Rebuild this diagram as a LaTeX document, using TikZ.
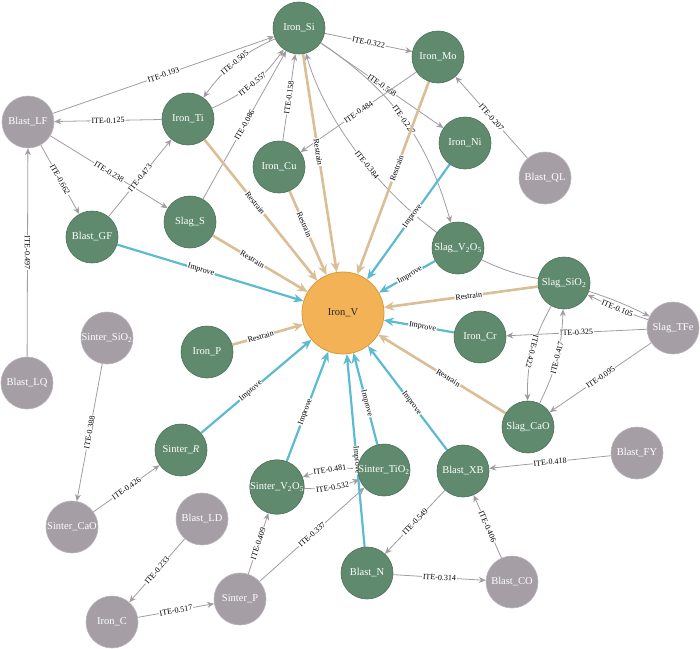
\documentclass[tikz,border=0pt]{standalone}
\usepackage{fontspec}
\setmainfont{Liberation Serif}
\usetikzlibrary{arrows.meta,backgrounds}
\definecolor{gnode}{HTML}{5F8A6E}
\definecolor{gborder}{HTML}{4A7058}
\definecolor{ynode}{HTML}{A59FA5}
\definecolor{yborder}{HTML}{B8B3B8}
\definecolor{onode}{HTML}{F2B255}
\definecolor{oborder}{HTML}{D99A3C}
\definecolor{egray}{HTML}{A19CA1}
\definecolor{etan}{HTML}{DABE96}
\definecolor{ecyan}{HTML}{5CBBD0}
\newcommand\myNodeFont{\fontsize{10.5}{12}\selectfont}
\newcommand\myLabFont{\fontsize{8}{9}\selectfont}
\begin{document}
\begin{tikzpicture}[x=1pt,y=-1pt,
  gn/.style={circle,minimum size=52pt,inner sep=0pt,fill=gnode,draw=gborder,line width=0.6pt,text=white,font=\myNodeFont},
  gy/.style={circle,minimum size=52pt,inner sep=0pt,fill=ynode,draw=yborder,line width=0.6pt,text=white,font=\myNodeFont},
  ov/.style={circle,minimum size=82pt,inner sep=0pt,fill=onode,draw=oborder,line width=0.8pt,text=black!85,font=\myNodeFont},
  lab/.style={font=\myLabFont,fill=white,inner sep=0.8pt,sloped,text=black},
  ite/.style={draw=egray,line width=0.8pt,-{Stealth[length=7pt,width=6pt]}},
  res/.style={draw=etan,line width=2.6pt,-{Stealth[length=10pt,width=9pt]}},
  imp/.style={draw=ecyan,line width=2.2pt,-{Stealth[length=10pt,width=8.5pt]}}]
\useasboundingbox (0,0) rectangle (700,648);
% nodes
\node[gn] (si) at (299,28) {Iron\_Si};
\node[gn] (mo) at (438,57) {Iron\_Mo};
\node[gn] (ni) at (465,143) {Iron\_Ni};
\node[gy] (ql) at (545,178) {Blast\_QL};
\node[gy] (blf) at (28,122) {Blast\_LF};
\node[gn] (ti) at (188,119) {Iron\_Ti};
\node[gn] (cu) at (279,167) {Iron\_Cu};
\node[gn] (slags) at (190,222) {Slag\_S};
\node[gn] (gf) at (92,237) {Blast\_GF};
\node[ov] (v) at (343,313) {Iron\_V};
\node[gn] (ip) at (207,352) {Iron\_P};
\node[gy] (ssio2) at (107,338) {Sinter\_SiO\textsubscript{2}};
\node[gy] (lq) at (27,383) {Blast\_LQ};
\node[gn] (sv) at (458,248) {Slag\_V\textsubscript{2}O\textsubscript{5}};
\node[gn] (sio2) at (564,283) {Slag\_SiO\textsubscript{2}};
\node[gn] (cr) at (480,337) {Iron\_Cr};
\node[gy] (tfe) at (673,328) {Slag\_TFe};
\node[gn] (cao) at (528,427) {Slag\_CaO};
\node[gn] (sr) at (181,450) {Sinter\_\textit{R}};
\node[gy] (scao) at (72,527) {Sinter\_CaO};
\node[gy] (ld) at (202,519) {Blast\_LD};
\node[gn] (sv2) at (277,487) {Sinter\_V\textsubscript{2}O\textsubscript{5}};
\node[gy] (sp) at (240,599) {Sinter\_P};
\node[gy] (ironc) at (112,622) {Iron\_C};
\node[gn] (sti) at (384,470) {Sinter\_TiO\textsubscript{2}};
\node[gn] (xb) at (463,471) {Blast\_XB};
\node[gy] (fy) at (637,453) {Blast\_FY};
\node[gn] (bn) at (367,573) {Blast\_N};
\node[gy] (co) at (512,582) {Blast\_CO};
\begin{pgfonlayer}{background}
% ITE edges
\draw[ite] (blf) -- node[lab]{ITE-0.193} (si);
\draw[ite] (si) to[bend right=15] node[lab]{ITE-0.505} (ti);
\draw[ite] (ti) to[bend right=15] node[lab]{ITE-0.557} (si);
\draw[ite] (ti) -- node[lab]{ITE-0.125} (blf);
\draw[ite] (slags) -- node[lab]{ITE-0.086} (si);
\draw[ite] (cu) -- node[lab]{ITE-0.158} (si);
\draw[ite] (blf) -- node[lab]{ITE-0.238} (slags);
\draw[ite] (gf) -- node[lab]{ITE-0.473} (ti);
\draw[ite] (blf) -- node[lab]{ITE-0.662} (gf);
\draw[ite] (lq) -- node[lab,rotate=180]{ITE-0.497} (blf);
\draw[ite] (si) -- node[lab]{ITE-0.322} (mo);
\draw[ite] (si) -- node[lab]{ITE-0.568} (ni);
\draw[ite] (mo) -- node[lab]{ITE-0.484} (cu);
\draw[ite] (si) to[bend left=20] node[lab]{ITE-0.227} (sv);
\draw[ite] (sio2) .. controls (430,260) and (330,140) .. node[lab,pos=0.6]{ITE-0.384} (si);
\draw[ite] (ql) -- node[lab]{ITE-0.207} (mo);
\draw[ite] (sio2) to[bend left=4] (tfe);
\draw[ite] (tfe) to[bend left=4] node[lab]{ITE-0.105} (sio2);
\draw[ite] (tfe) -- node[lab]{ITE-0.325} (cr);
\draw[ite] (sio2) to[bend right=15] node[lab,rotate=180]{ITE-0.422} (cao);
\draw[ite] (cao) to[bend right=12] node[lab]{ITE-0.417} (sio2);
\draw[ite] (tfe) -- node[lab]{ITE-0.095} (cao);
\draw[ite] (ssio2) -- node[lab]{ITE-0.388} (scao);
\draw[ite] (scao) -- node[lab]{ITE-0.426} (sr);
\draw[ite] (ld) -- node[lab]{ITE-0.233} (ironc);
\draw[ite] (ironc) -- node[lab]{ITE-0.517} (sp);
\draw[ite] (sp) -- node[lab]{ITE-0.409} (sv2);
\draw[ite] (sp) -- node[lab]{ITE-0.337} (sti);
\draw[ite] (sti) to[bend right=12] node[lab]{ITE-0.481} (sv2);
\draw[ite] (sv2) to[bend right=12] node[lab]{ITE-0.532} (sti);
\draw[ite] (fy) -- node[lab]{ITE-0.418} (xb);
\draw[ite] (xb) -- node[lab]{ITE-0.549} (bn);
\draw[ite] (co) -- node[lab]{ITE-0.406} (xb);
\draw[ite] (bn) -- node[lab]{ITE-0.314} (co);
% Restrain edges
\draw[res] (ti) -- node[lab,pos=0.45]{Restrain} (v);
\draw[res] (cu) -- node[lab,pos=0.4]{Restrain} (v);
\draw[res] (si) -- node[lab,pos=0.45]{Restrain} (v);
\draw[res] (mo) -- node[lab,pos=0.45]{Restrain} (v);
\draw[res] (slags) -- node[lab,pos=0.42]{Restrain} (v);
\draw[res] (ip) -- node[lab,pos=0.4]{Restrain} (v);
\draw[res] (sio2) -- node[lab,pos=0.45]{Restrain} (v);
\draw[res] (cao) -- node[lab,pos=0.45]{Restrain} (v);
% Improve edges
\draw[imp] (gf) -- node[lab,pos=0.45]{Improve} (v);
\draw[imp] (ni) -- node[lab,pos=0.45]{Improve} (v);
\draw[imp] (sv) -- node[lab,pos=0.45]{Improve} (v);
\draw[imp] (cr) -- node[lab,pos=0.45]{Improve} (v);
\draw[imp] (sr) -- node[lab,pos=0.45]{Improve} (v);
\draw[imp] (sv2) -- node[lab,pos=0.45]{Improve} (v);
\draw[imp] (sti) -- node[lab,pos=0.45]{Improve} (v);
\draw[imp] (bn) -- node[lab,pos=0.45]{Improve} (v);
\draw[imp] (xb) -- node[lab,pos=0.45]{Improve} (v);
\end{pgfonlayer}
\end{tikzpicture}
\end{document}
